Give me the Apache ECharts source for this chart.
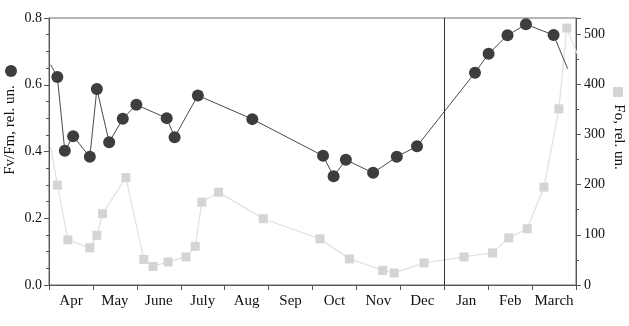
<!DOCTYPE html>
<html>
<head>
<meta charset="utf-8">
<script src="https://cdn.jsdelivr.net/npm/echarts@6/dist/echarts.min.js"></script>
<style>
  html, body { margin: 0; padding: 0; background: #fff; }
  #chart { width: 629px; height: 326px; }
</style>
</head>
<body>
<div id="chart"></div>
<script>
// Month labels along the bottom axis (season runs April to March)
const months = ['Apr', 'May', 'June', 'July', 'Aug', 'Sep', 'Oct', 'Nov', 'Dec', 'Jan', 'Feb', 'March'];

// Sampling dates, in months counted from 1 April
const fvDates = [0.04, 0.19, 0.36, 0.55, 0.93, 1.09, 1.37, 1.68, 1.99, 2.68, 2.86, 3.39, 4.63,
                 6.24, 6.48, 6.76, 7.38, 7.92, 8.38, 9.70, 10.01, 10.44, 10.86, 11.49, 11.81];
// Fv/Fm, rel. un.
const fvValues = [0.66, 0.623, 0.402, 0.446, 0.384, 0.587, 0.428, 0.498, 0.540, 0.500, 0.443, 0.568, 0.497,
                  0.387, 0.326, 0.375, 0.336, 0.384, 0.416, 0.636, 0.693, 0.748, 0.781, 0.749, 0.648];

const foDates = [0.04, 0.19, 0.43, 0.93, 1.09, 1.22, 1.75, 2.16, 2.37, 2.71, 3.12, 3.33, 3.48, 3.86, 4.88,
                 6.17, 6.84, 7.60, 7.86, 8.54, 9.45, 10.10, 10.47, 10.89, 11.27, 11.61, 11.79, 12.2];
// Fo, rel. un.
const foValues = [275, 199, 90, 74, 99, 142, 214, 51, 37, 46, 56, 77, 165, 185, 132,
                  92, 52, 29, 24, 44, 56, 64, 94, 112, 195, 351, 512, 423];

// Left axis ticks and right axis ticks
const fvTicks = { min: 0, max: 0.8, interval: 0.2 };
const foTicks = { min: 0, max: 532, interval: 100 };

// Jan 1 boundary marker position
const yearBreak = 9;

const serif = 'Liberation Serif';
const axisColor = '#555';

// Points without a marker are the line ends running off the plot edge
function toPoints(xs, ys) {
  return xs.map((x, i) => {
    const edge = i === 0 || i === xs.length - 1;
    return edge ? { value: [x, ys[i]], symbol: 'none' } : [x, ys[i]];
  });
}

const chart = echarts.init(document.getElementById('chart'), null, { renderer: 'canvas' });

chart.setOption({
  animation: false,
  backgroundColor: '#fff',
  grid: {
    left: 49, right: 53, top: 18, bottom: 41,
    show: true, borderColor: '#6a6a6a', borderWidth: 1, backgroundColor: 'transparent'
  },
  xAxis: [
    {
      type: 'category',
      data: months,
      position: 'bottom',
      boundaryGap: true,
      axisLine: { lineStyle: { color: axisColor, width: 1 } },
      axisTick: { show: true, interval: 0, alignWithLabel: false, length: 5, lineStyle: { color: axisColor } },
      axisLabel: { interval: 0, color: '#111', fontFamily: serif, fontSize: 15, margin: 9 },
      splitLine: { show: false }
    },
    {
      type: 'value',
      position: 'top',
      min: 0,
      max: 12,
      axisLine: { show: false },
      axisTick: { show: false },
      axisLabel: { show: false },
      splitLine: { show: false }
    }
  ],
  yAxis: [
    {
      type: 'value',
      position: 'left',
      min: fvTicks.min,
      max: fvTicks.max,
      interval: fvTicks.interval,
      axisLine: { show: true, lineStyle: { color: axisColor, width: 1 } },
      axisTick: { show: true, length: 5, lineStyle: { color: axisColor } },
      minorTick: { show: true, splitNumber: 4, length: 3, lineStyle: { color: axisColor } },
      axisLabel: {
        color: '#111', fontFamily: serif, fontSize: 14, margin: 7,
        formatter: v => v.toFixed(1)
      },
      splitLine: { show: false }
    },
    {
      type: 'value',
      position: 'right',
      min: foTicks.min,
      max: foTicks.max,
      interval: foTicks.interval,
      axisLine: { show: true, lineStyle: { color: axisColor, width: 1 } },
      axisTick: { show: true, length: 5, lineStyle: { color: axisColor } },
      minorTick: { show: true, splitNumber: 2, length: 3, lineStyle: { color: axisColor } },
      axisLabel: {
        color: '#111', fontFamily: serif, fontSize: 14, margin: 8,
        showMaxLabel: false
      },
      splitLine: { show: false }
    }
  ],
  series: [
    {
      name: 'Fo',
      type: 'line',
      xAxisIndex: 1,
      yAxisIndex: 1,
      data: toPoints(foDates, foValues),
      symbol: 'rect',
      symbolSize: 9,
      clip: true,
      z: 2,
      itemStyle: { color: '#d4d4d4' },
      lineStyle: { color: '#e2e2e2', width: 1.3 },
      markLine: {
        silent: true,
        symbol: 'none',
        label: { show: false },
        lineStyle: { color: '#333', type: 'solid', width: 1 },
        data: [{ xAxis: yearBreak }]
      }
    },
    {
      name: 'Fv/Fm',
      type: 'line',
      xAxisIndex: 1,
      yAxisIndex: 0,
      data: toPoints(fvDates, fvValues),
      symbol: 'circle',
      symbolSize: 12,
      clip: true,
      z: 3,
      itemStyle: { color: '#3d3d3d' },
      lineStyle: { color: '#4a4a4a', width: 1 }
    }
  ],
  graphic: [
    {
      type: 'circle',
      shape: { cx: 11, cy: 71, r: 6 },
      style: { fill: '#3d3d3d' }
    },
    {
      type: 'text',
      x: 10, y: 130,
      rotation: Math.PI / 2,
      style: {
        text: 'Fv/Fm, rel. un.',
        font: '15px "Liberation Serif"',
        fill: '#111',
        align: 'center',
        verticalAlign: 'middle'
      }
    },
    {
      type: 'rect',
      shape: { x: 613, y: 87, width: 10, height: 10 },
      style: { fill: '#d4d4d4' }
    },
    {
      type: 'text',
      x: 619, y: 137,
      rotation: -Math.PI / 2,
      style: {
        text: 'Fo, rel. un.',
        font: '15px "Liberation Serif"',
        fill: '#111',
        align: 'center',
        verticalAlign: 'middle'
      }
    }
  ]
});
</script>
</body>
</html>
